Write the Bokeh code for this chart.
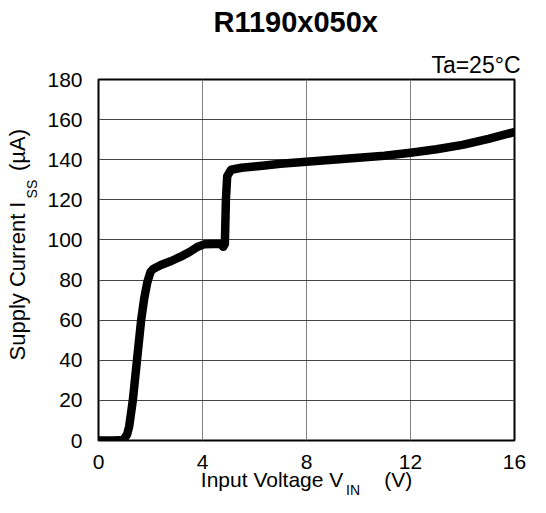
import math
from bokeh.plotting import figure
from bokeh.models import Label, Range1d, FixedTicker, ColumnDataSource, Title
from bokeh.embed import file_html
from bokeh.resources import INLINE

# ---- data ----
vin = [0.0, 0.6, 0.95, 1.1, 1.18, 1.32, 1.48, 1.64, 1.76, 1.88, 2.0, 2.1, 2.4, 2.8,
       3.14, 3.5, 3.8, 4.06, 4.4, 4.7, 4.8, 4.86, 4.9, 4.95, 5.1, 5.5, 6.0, 6.3, 7.0,
       8.0, 9.0, 10.0, 11.0, 12.0, 13.0, 14.0, 15.0, 16.0]
iss = [0.0, 0.0, 0.3, 3.0, 7.0, 20.0, 40.0, 60.0, 71.0, 79.0, 84.0, 85.5, 87.5, 89.5,
       91.5, 94.0, 96.5, 97.8, 98.0, 98.0, 96.6, 98.0, 120.0, 131.8, 135.0, 136.0, 136.6, 137.0, 138.0,
       139.0, 140.0, 141.0, 142.0, 143.5, 145.2, 147.4, 150.4, 153.8]
x_ticks = [0, 4, 8, 12, 16]
y_ticks = [0, 20, 40, 60, 80, 100, 120, 140, 160, 180]

TITLE = "R1190x050x"
NOTE = "Ta=25°C"
NB = "\u00a0"
X_LABEL = "Input Voltage V" + NB * 7 + "(V)"
X_SUB = "IN"
Y_LABEL = NB * 5 + "Supply Current I" + NB * 5 + "(µA)"
Y_SUB = "SS"

FONT = "Liberation Sans"

p = figure(width=530, height=497, output_backend="svg", toolbar_location=None,
           x_range=Range1d(0, 16), y_range=Range1d(0, 180),
           min_border_left=98, min_border_right=16, min_border_top=79, min_border_bottom=57)
p.title.text = ""
p.background_fill_color = "white"
p.border_fill_color = "white"
p.outline_line_color = "black"
p.outline_line_width = 2

for ax in (p.xaxis[0], p.yaxis[0]):
    ax.axis_line_color = None
    ax.major_tick_line_color = None
    ax.minor_tick_line_color = None
    ax.major_tick_out = 0
    ax.major_tick_in = 0
    ax.minor_tick_out = 0
    ax.minor_tick_in = 0
    ax.major_label_text_font = FONT
    ax.major_label_text_font_size = "21px"
    ax.major_label_text_color = "black"
    ax.axis_label_text_font = FONT
    ax.axis_label_text_font_style = "normal"
    ax.axis_label_text_color = "black"

p.xaxis.ticker = FixedTicker(ticks=x_ticks)
p.yaxis.ticker = FixedTicker(ticks=y_ticks)
p.xaxis.major_label_standoff = 14
p.yaxis.major_label_standoff = 16
p.xaxis.axis_label = X_LABEL
p.xaxis.axis_label_text_font_size = "21px"
p.xaxis.axis_label_standoff = -4
p.yaxis.axis_label = Y_LABEL
p.yaxis.axis_label_text_font_size = "22px"
p.yaxis.axis_label_standoff = 14

p.xgrid.ticker = FixedTicker(ticks=x_ticks)
p.ygrid.ticker = FixedTicker(ticks=y_ticks)
p.xgrid.grid_line_color = "#808080"
p.xgrid.grid_line_width = 1
p.ygrid.grid_line_color = "#444444"
p.ygrid.grid_line_width = 1

src = ColumnDataSource(dict(x=vin, y=iss))
p.line("x", "y", source=src, line_color="black", line_width=8.5,
       line_join="round", line_cap="round")

# note and title above the frame
ta = Title(text=NOTE, align="right", offset=-6, standoff=3, vertical_align="bottom",
           text_font=FONT, text_font_size="23px", text_font_style="normal", text_color="black")
main = Title(text=TITLE, align="left", offset=115, standoff=-10, vertical_align="bottom",
             text_font=FONT, text_font_size="29px", text_font_style="bold", text_color="black")

# subscripts (placed in side panels so that they are not clipped)
x_sub = Label(x=9.52, y=-24.9, text=X_SUB, text_font=FONT, text_font_size="14px",
              text_color="black", text_align="left", text_baseline="alphabetic")
y_sub = Label(x=-2.54, y=120.7, text=Y_SUB, text_font=FONT, text_font_size="14px",
              text_color="black", text_align="left", text_baseline="alphabetic",
              angle=math.pi / 2)

p.add_layout(ta, "above")
p.add_layout(x_sub, "above")
p.add_layout(main, "above")
p.add_layout(y_sub, "right")

open("out.html", "w").write(file_html(p, INLINE))
